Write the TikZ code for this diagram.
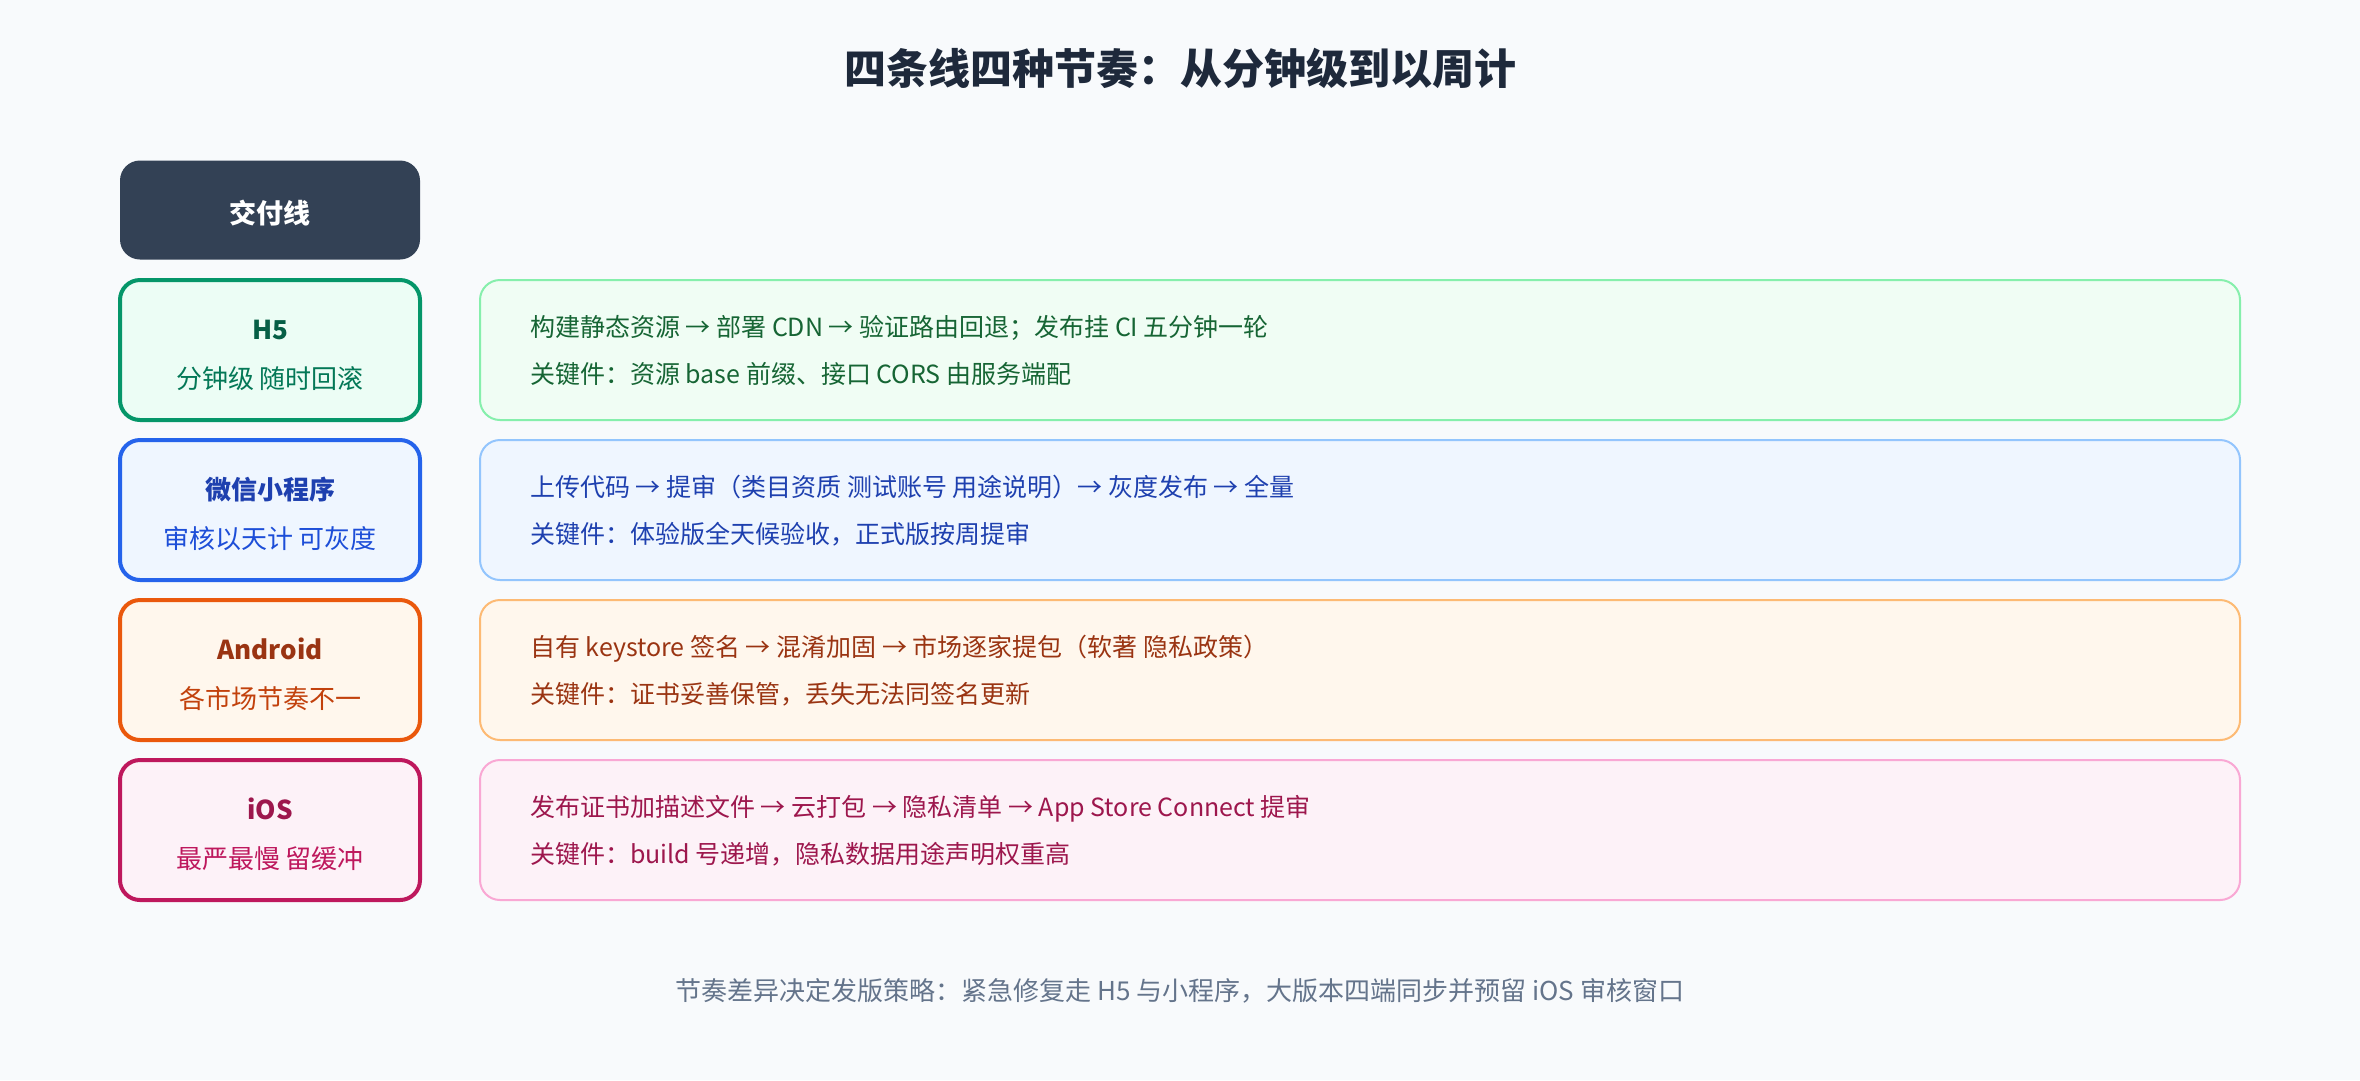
\documentclass[tikz,border=0pt]{standalone}
\usepackage{fontspec}
\setmainfont{Noto Sans CJK SC}
\definecolor{bg}{HTML}{F8FAFC}
\definecolor{titlec}{HTML}{1E293B}
\definecolor{darkbox}{HTML}{334155}
\definecolor{footc}{HTML}{64748B}
% green
\definecolor{gB}{HTML}{059669}\definecolor{gF}{HTML}{ECFDF5}
\definecolor{gDF}{HTML}{F0FDF4}\definecolor{gDB}{HTML}{86EFAC}
\definecolor{gT}{HTML}{065F46}\definecolor{gS}{HTML}{047857}\definecolor{gX}{HTML}{166534}
% blue
\definecolor{bB}{HTML}{2563EB}\definecolor{bF}{HTML}{EFF6FF}
\definecolor{bDF}{HTML}{EFF6FF}\definecolor{bDB}{HTML}{93C5FD}
\definecolor{bT}{HTML}{1E40AF}\definecolor{bS}{HTML}{1D4ED8}\definecolor{bX}{HTML}{1E40AF}
% orange
\definecolor{oB}{HTML}{EA580C}\definecolor{oF}{HTML}{FFF7ED}
\definecolor{oDF}{HTML}{FFF7ED}\definecolor{oDB}{HTML}{FDBA74}
\definecolor{oT}{HTML}{9A3412}\definecolor{oS}{HTML}{C2410C}\definecolor{oX}{HTML}{9A3412}
% pink
\definecolor{pB}{HTML}{BE185D}\definecolor{pF}{HTML}{FDF2F8}
\definecolor{pDF}{HTML}{FDF2F8}\definecolor{pDB}{HTML}{F9A8D4}
\definecolor{pT}{HTML}{9D174D}\definecolor{pS}{HTML}{BE185D}\definecolor{pX}{HTML}{9D174D}
\tikzset{
  lanebox/.style={draw, line width=4pt, rounded corners=20pt, minimum width=300pt, minimum height=140pt, inner sep=0pt},
  detailbox/.style={draw, line width=2pt, rounded corners=20pt, minimum width=1760pt, minimum height=140pt, inner sep=0pt},
  txt/.style={anchor=base, inner sep=0pt},
  ltitle/.style={txt, font=\fontsize{26}{30}\selectfont\bfseries},
  lsub/.style={txt, font=\fontsize{26}{30}\selectfont},
  dtext/.style={txt, anchor=base west, font=\fontsize{25}{30}\selectfont},
}
\begin{document}
\begin{tikzpicture}[x=1pt,y=-1pt]
\fill[bg] (0,0) rectangle (2360,1080);
\useasboundingbox (0,0) rectangle (2360,1080);

\node[txt, text=titlec, font=\fontsize{42}{50}\selectfont\bfseries] (title) at (1180,84.5) {四条线四种节奏：从分钟级到以周计};

\node[fill=darkbox, rounded corners=20pt, minimum width=300pt, minimum height=99pt, inner sep=0pt] (head) at (270,210) {};
\node[txt, text=white, font=\fontsize{27}{30}\selectfont\bfseries] (headtxt) at (270,223) {交付线};

% H5
\node[lanebox, draw=gB, fill=gF] (h5) at (270,350) {};
\node[ltitle, text=gT] (h5t) at (270,339.6) {H5};
\node[lsub, text=gS] (h5s) at (270,388.6) {分钟级 随时回滚};
\node[detailbox, draw=gDB, fill=gDF] (h5d) at (1360,350) {};
\node[dtext, text=gX] (h5a) at (530,336.3) {构建静态资源 → 部署 CDN → 验证路由回退；发布挂 CI 五分钟一轮};
\node[dtext, text=gX] (h5b) at (530,383.3) {关键件：资源 base 前缀、接口 CORS 由服务端配};

% WeChat
\node[lanebox, draw=bB, fill=bF] (wx) at (270,510) {};
\node[ltitle, text=bT] (wxt) at (270,499.6) {微信小程序};
\node[lsub, text=bS] (wxs) at (270,548.6) {审核以天计 可灰度};
\node[detailbox, draw=bDB, fill=bDF] (wxd) at (1360,510) {};
\node[dtext, text=bX] (wxa) at (530,496.3) {上传代码 → 提审（类目资质 测试账号 用途说明）→ 灰度发布 → 全量};
\node[dtext, text=bX] (wxb) at (530,543.3) {关键件：体验版全天候验收，正式版按周提审};

% Android
\node[lanebox, draw=oB, fill=oF] (an) at (270,670) {};
\node[ltitle, text=oT] (ant) at (270,659.6) {Android};
\node[lsub, text=oS] (ans) at (270,708.6) {各市场节奏不一};
\node[detailbox, draw=oDB, fill=oDF] (and) at (1360,670) {};
\node[dtext, text=oX] (ana) at (530,656.3) {自有 keystore 签名 → 混淆加固 → 市场逐家提包（软著 隐私政策）};
\node[dtext, text=oX] (anb) at (530,703.3) {关键件：证书妥善保管，丢失无法同签名更新};

% iOS
\node[lanebox, draw=pB, fill=pF] (ios) at (270,830) {};
\node[ltitle, text=pT] (iost) at (270,819.6) {iOS};
\node[lsub, text=pS] (ioss) at (270,868.6) {最严最慢 留缓冲};
\node[detailbox, draw=pDB, fill=pDF] (iosd) at (1360,830) {};
\node[dtext, text=pX] (iosa) at (530,816.3) {发布证书加描述文件 → 云打包 → 隐私清单 → App Store Connect 提审};
\node[dtext, text=pX] (iosb) at (530,863.3) {关键件：build 号递增，隐私数据用途声明权重高};

\node[txt, text=footc, font=\fontsize{26}{30}\selectfont] (foot) at (1180,1000.6) {节奏差异决定发版策略：紧急修复走 H5 与小程序，大版本四端同步并预留 iOS 审核窗口};
\end{tikzpicture}
\end{document}
